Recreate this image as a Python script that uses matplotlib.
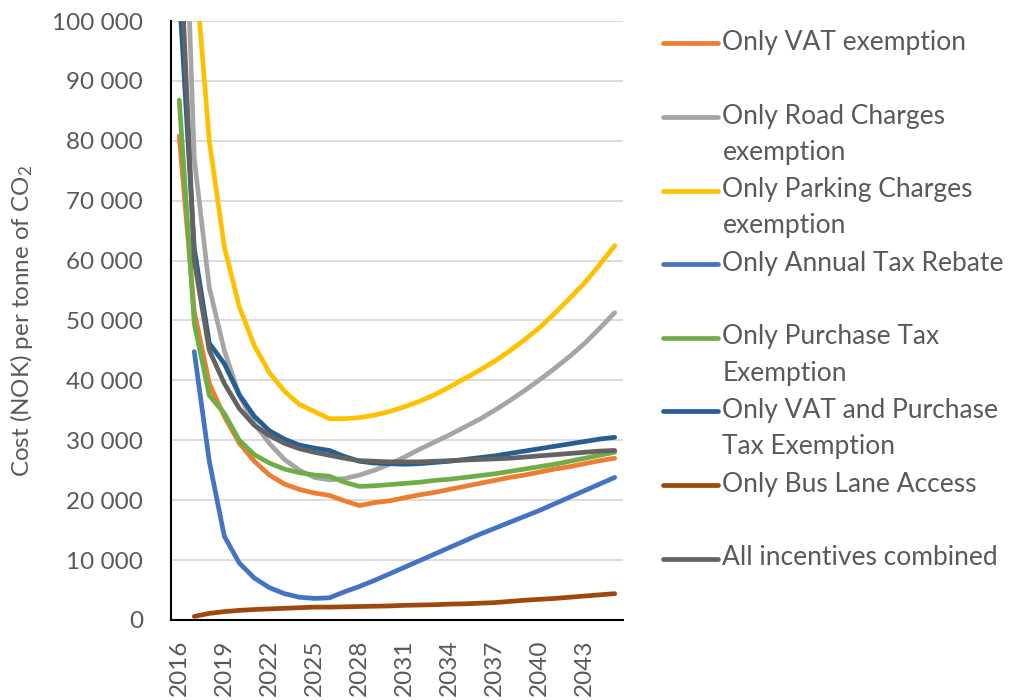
import numpy as np
import matplotlib
matplotlib.use("Agg")
import matplotlib.pyplot as plt
from matplotlib.ticker import FuncFormatter, MultipleLocator
from matplotlib.legend_handler import HandlerLine2D

plt.rcParams["font.family"] = ["Lato", "DejaVu Sans"]
plt.rcParams["mathtext.fontset"] = "custom"
plt.rcParams["mathtext.rm"] = "Lato"
plt.rcParams["mathtext.it"] = "Lato:italic"
plt.rcParams["axes.grid"] = False

TEXT_COL = "#595959"
nan = np.nan

YEARS = list(range(2016, 2046))

# cost per tonne CO2, in 1000 NOK
VAT = [80.8, 51.5, 39.5, 34.0, 29.5, 26.5, 24.2, 22.7, 21.8, 21.2,
       20.8, 19.9, 19.1, 19.6, 19.9, 20.4, 20.9, 21.3, 21.8, 22.3,
       22.8, 23.3, 23.8, 24.2, 24.7, 25.2, 25.6, 26.1, 26.6, 27.0]
ROAD = [150.0, 77.0, 55.5, 45.0, 37.5, 32.8, 29.5, 26.8, 25.0, 23.8,
        23.4, 23.6, 24.2, 25.0, 26.0, 27.2, 28.5, 29.7, 30.9, 32.2,
        33.5, 35.0, 36.6, 38.3, 40.1, 42.0, 44.0, 46.2, 48.7, 51.3]
PARKING = [170.0, 111.0, 80.0, 62.3, 52.3, 45.8, 41.3, 38.2, 36.0, 34.8,
           33.6, 33.6, 33.8, 34.2, 34.8, 35.6, 36.5, 37.6, 38.9, 40.3,
           41.7, 43.2, 44.9, 46.8, 48.8, 51.2, 53.7, 56.3, 59.3, 62.5]
ANNUAL = [nan, 44.8, 26.5, 14.0, 9.5, 7.0, 5.4, 4.4, 3.8, 3.6,
          3.7, 4.7, 5.6, 6.6, 7.7, 8.8, 9.9, 11.0, 12.1, 13.2,
          14.3, 15.3, 16.3, 17.3, 18.3, 19.4, 20.5, 21.6, 22.7, 23.8]
PURCHASE = [86.8, 49.5, 37.5, 34.5, 30.0, 27.6, 26.2, 25.2, 24.6, 24.2,
            24.0, 23.0, 22.3, 22.4, 22.6, 22.8, 23.0, 23.3, 23.5, 23.8,
            24.1, 24.4, 24.8, 25.2, 25.6, 26.0, 26.5, 27.0, 27.5, 28.0]
VAT_PURCHASE = [105.0, 62.0, 46.2, 42.8, 37.6, 34.0, 31.6, 30.2, 29.2, 28.7,
                28.3, 27.3, 26.5, 26.2, 26.1, 26.0, 26.1, 26.3, 26.5, 26.8,
                27.1, 27.4, 27.8, 28.2, 28.6, 29.0, 29.4, 29.8, 30.2, 30.5]
BUS = [nan, 0.6, 1.1, 1.4, 1.6, 1.75, 1.85, 1.95, 2.05, 2.15,
       2.15, 2.2, 2.25, 2.3, 2.35, 2.45, 2.5, 2.55, 2.65, 2.7,
       2.8, 2.9, 3.1, 3.3, 3.45, 3.6, 3.8, 4.0, 4.2, 4.4]
ALL = [116.0, 60.0, 45.0, 39.5, 35.3, 32.5, 30.8, 29.5, 28.6, 28.0,
       27.5, 27.0, 26.6, 26.5, 26.4, 26.4, 26.4, 26.5, 26.6, 26.7,
       26.8, 26.9, 27.0, 27.2, 27.4, 27.6, 27.8, 28.0, 28.2, 28.3]

SERIES = [
    ("Only VAT exemption", VAT, "#ED7D31"),
    ("Only Road Charges\nexemption", ROAD, "#A5A5A5"),
    ("Only Parking Charges\nexemption", PARKING, "#FFC000"),
    ("Only Annual Tax Rebate", ANNUAL, "#4472C4"),
    ("Only Purchase Tax\nExemption", PURCHASE, "#70AD47"),
    ("Only VAT and Purchase\nTax Exemption", VAT_PURCHASE, "#255E91"),
    ("Only Bus Lane Access", BUS, "#9E480E"),
    ("All incentives combined", ALL, "#636363"),
]


class FirstLineHandler(HandlerLine2D):
    # put the key line next to the first text line
    def __init__(self, shift, **kw):
        super().__init__(**kw)
        self.shift = shift

    def create_artists(self, legend, orig_handle, xdescent, ydescent,
                       width, height, fontsize, trans):
        arts = super().create_artists(legend, orig_handle, xdescent, ydescent,
                                      width, height, fontsize, trans)
        for a in arts:
            a.set_ydata(np.asarray(a.get_ydata()) + self.shift)
        return arts


fig = plt.figure(figsize=(10.1, 7), dpi=100)
ax = fig.add_axes([0.1693, 0.1143, 0.4475, 0.8557])

handles = []
labels = []
for name, vals, col in SERIES:
    ln, = ax.plot(YEARS, np.array(vals) * 1000, color=col, lw=3.4,
                  solid_capstyle="round", solid_joinstyle="round")
    handles.append(ln)
    labels.append(name if "\n" in name else name + "\n ")

ax.set_xlim(2015.45, 2045.55)
ax.set_ylim(0, 100000)
ax.yaxis.set_major_locator(MultipleLocator(10000))
ax.yaxis.set_major_formatter(FuncFormatter(lambda v, p: f"{int(v):,}".replace(",", " ")))
ax.set_xticks(YEARS[::3])
ax.set_xticklabels([str(y) for y in YEARS[::3]], rotation=90)
ax.xaxis.set_minor_locator(plt.NullLocator())

ax.tick_params(axis="y", length=0, pad=20, labelsize=17.5, labelcolor=TEXT_COL)
ax.tick_params(axis="x", length=0, pad=14, labelsize=17.5, labelcolor=TEXT_COL,
               grid_alpha=0)

ax.grid(False)
ax.yaxis.grid(True, which="major", color="#D9D9D9", lw=1.3)
ax.set_axisbelow(True)
for s in ["top", "right"]:
    ax.spines[s].set_visible(False)
for s in ["left", "bottom"]:
    ax.spines[s].set_color("black")
    ax.spines[s].set_linewidth(1.5)

ax.set_ylabel("Cost (NOK) per tonne of CO$_2$", fontsize=17.4, color=TEXT_COL)
ax.yaxis.set_label_coords(-0.30, 0.5)

leg = ax.legend(handles, labels, loc="upper left",
                bbox_to_anchor=(663 / 1010, 1 - 30 / 700),
                bbox_transform=fig.transFigure, frameon=False,
                fontsize=19, handlelength=2.1, handletextpad=0.15,
                labelspacing=0.47, borderpad=0, borderaxespad=0,
                handler_map={h: FirstLineHandler(13) for h in handles})
for t in leg.get_texts():
    t.set_color(TEXT_COL)
    t.set_linespacing(1.56)

fig.canvas.draw()
for gl in ax.get_xgridlines():
    gl.set_visible(False)

fig.savefig("out.png", dpi=100)
